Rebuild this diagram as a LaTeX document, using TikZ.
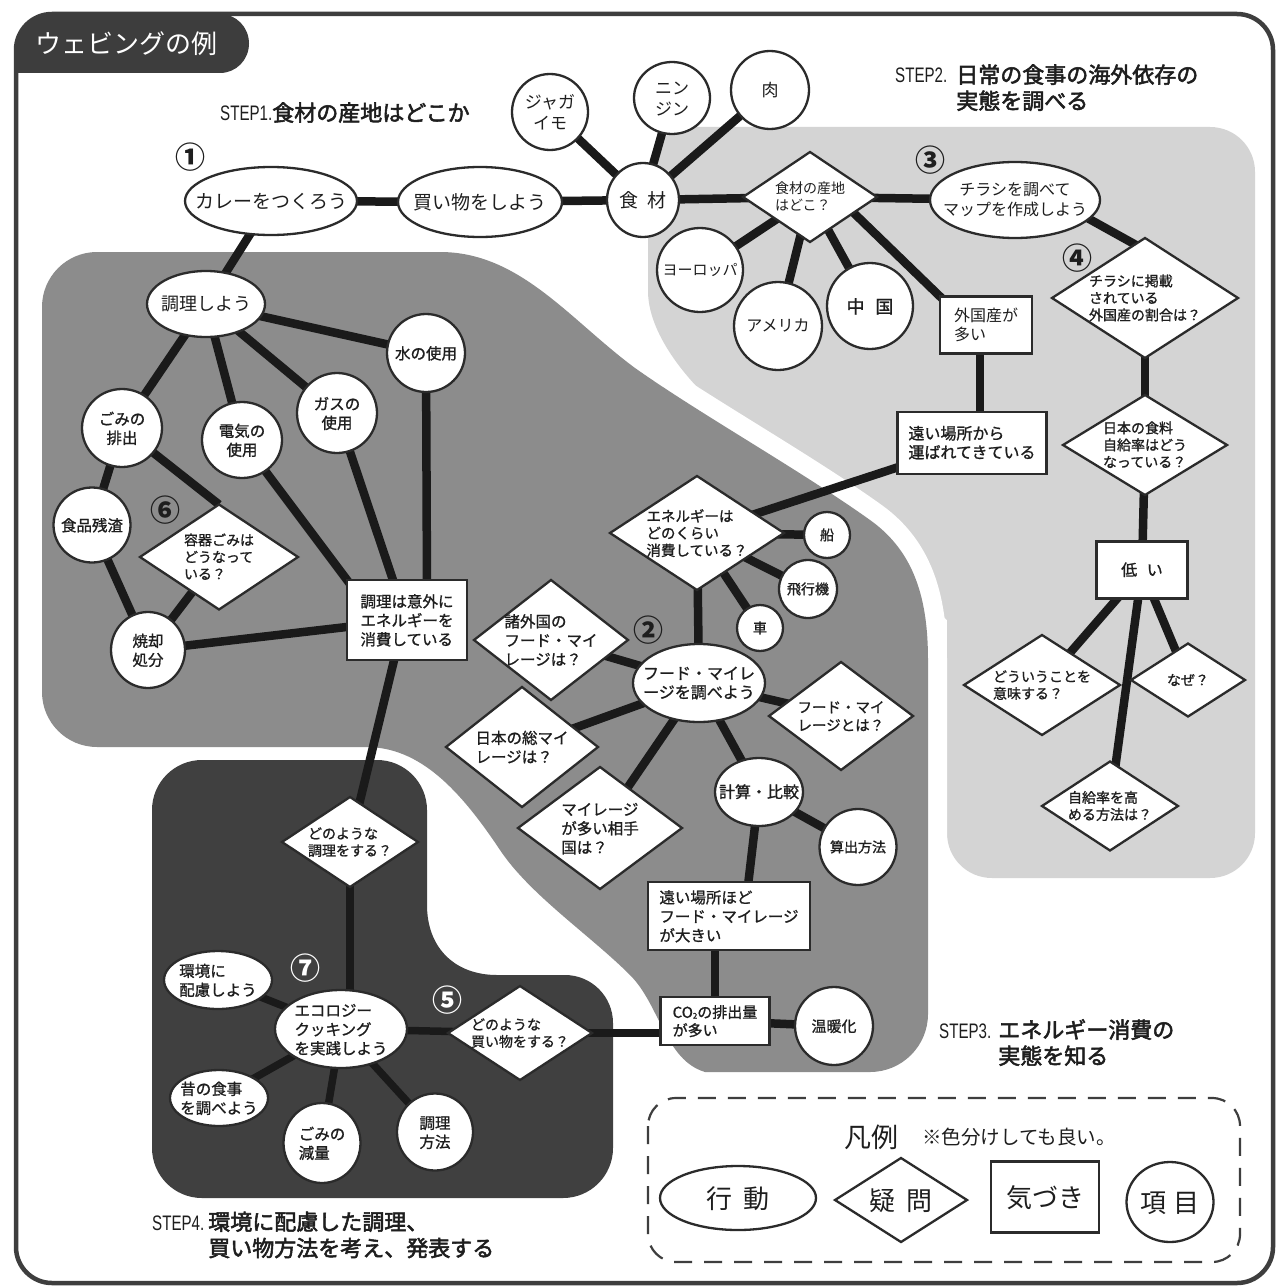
\documentclass[tikz,border=0pt]{standalone}
\usepackage{fontspec}
\usetikzlibrary{shapes.geometric,calc}
\newfontfamily\jp{Noto Sans CJK JP}
\newfontfamily\jpm[FakeBold=1.1]{Noto Sans CJK JP}
\newfontfamily\jpb[FakeBold=2.4]{Noto Sans CJK JP}
\newfontfamily\stepf[FakeStretch=0.72]{Liberation Sans}
\definecolor{lightreg}{HTML}{D4D4D4}
\definecolor{midreg}{HTML}{8C8C8C}
\definecolor{darkreg}{HTML}{404040}
\definecolor{framec}{HTML}{3E3E3E}
\definecolor{nodeline}{HTML}{2B2B2B}
\definecolor{connc}{HTML}{1A1A1A}
\definecolor{txtc}{HTML}{1E1E1E}
\newcommand\FS[2]{\fontsize{#1}{#2}\selectfont}
\newcommand\TxtL[1]{\smash{\makebox[0pt]{\raisebox{-0.39em}{\begin{tabular}{@{}l@{}}#1\end{tabular}}}}}
\newcommand\TxtC[1]{\smash{\makebox[0pt]{\raisebox{-0.39em}{\begin{tabular}{@{}c@{}}#1\end{tabular}}}}}
\pgfdeclarelayer{regions}
\pgfdeclarelayer{lines}
\pgfsetlayers{regions,lines,main}
\tikzset{
  nd/.style={draw=nodeline, line width=2.3pt, fill=white, inner sep=0pt, outer sep=0pt, text=txtc},
  act/.style={nd, ellipse},
  que/.style={nd, diamond},
  kiz/.style={nd, rectangle},
  sz/.style 2 args={minimum width=#1, minimum height=#2},
  conn/.style={line width=8.5pt, draw=connc},
  dconn/.style={line width=7.5pt, draw=connc},
  cnum/.style={font=\jp\bfseries\FS{30}{30}, inner sep=0pt, text=txtc},
  stepl/.style={anchor=base west, inner sep=0pt, text=txtc},
}
\begin{document}
\begin{tikzpicture}[x=1pt,y=-1pt]
\useasboundingbox (0,0) rectangle (1278,1287);
\begin{pgfonlayer}{regions}
\fill[white] (0,0) rectangle (1278,1287);
% STEP2 light region
\fill[lightreg] (648,291) -- (648,172) .. controls (648,147) and (668,127) .. (693,127) -- (1210,127) .. controls (1235,127) and (1255,147) .. (1255,172) -- (1255,833) .. controls (1255,858) and (1235,878) .. (1210,878) -- (992,878) .. controls (967,878) and (947,858) .. (947,833) -- (947,620) -- (760,440) .. controls (700,400) and (648,340) .. (648,291) -- cycle;
% STEP3 mid region
\path[fill=midreg, preaction={draw=white, line width=38pt}] (42,307) .. controls (42,276.6) and (66.6,252) .. (97,252) -- (440,252) .. controls (520,252) and (570,320) .. (635,368) .. controls (700,414) and (800,470) .. (870,520) .. controls (915,552) and (928,600) .. (928,660) -- (928,1014) .. controls (928,1046) and (902,1072) .. (870,1072) -- (705,1072) .. controls (665,1060) and (660,1005) .. (630,975) .. controls (590,935) and (530,895) .. (500,850) .. controls (460,790) and (420,747) .. (366,747) -- (97,747) .. controls (66.6,747) and (42,722.4) .. (42,692) -- cycle;
% STEP4 dark region
\fill[darkreg] (152,810) .. controls (152,782.4) and (174.4,760) .. (202,760) -- (377,760) .. controls (404.6,760) and (427,782.4) .. (427,810) -- (427,905) .. controls (427,948) and (455,975) .. (497,975) -- (565,975) .. controls (591.5,975) and (613,996.5) .. (613,1023) -- (613,1148) .. controls (613,1175.6) and (590.6,1198) .. (563,1198) -- (202,1198) .. controls (174.4,1198) and (152,1175.6) .. (152,1148) -- cycle;
\end{pgfonlayer}

% frame and tab
\draw[framec, line width=4.5pt, rounded corners=36pt] (16,14) rectangle (1273,1283);
\fill[darkreg!95!black] (16,73) -- (16,50) .. controls (16,30) and (30,14) .. (50,14) -- (220,14) .. controls (236,14) and (249,27) .. (249,43.5) .. controls (249,60) and (236,73) .. (220,73) -- cycle;
\node[font=\jp\FS{26}{28}, text=white, inner sep=0pt] (tabtxt) at (126,44) {ウェビングの例};

% STEP labels
\node[stepl] (step1) at (220,121) {{\stepf\FS{21}{26}STEP1.}{\jpb\FS{22}{26}食材の産地はどこか}};
\node[stepl] (step2) at (895,83) {\FS{22}{25}\begin{tabular}[t]{@{}l@{\hspace{9pt}}l@{}}\stepf\FS{21}{25}STEP2. & \jpb 日常の食事の海外依存の\\ & \jpb 実態を調べる\end{tabular}};
\node[stepl] (step3) at (939,1038) {\FS{22}{25}\begin{tabular}[t]{@{}l@{\hspace{7pt}}l@{}}\stepf\FS{21}{25}STEP3. & \jpb エネルギー消費の\\ & \jpb 実態を知る\end{tabular}};
\node[stepl] (step4) at (152,1230) {\FS{22}{26}\begin{tabular}[t]{@{}l@{\hspace{4pt}}l@{}}\stepf\FS{21}{26}STEP4. & \jpb 環境に配慮した調理、\\ & \jpb 買い物方法を考え、発表する\end{tabular}};

% circled numbers
\node[cnum] (n1) at (190,157) {①};
\node[cnum] (n2) at (648,630) {②};
\node[cnum] (n3) at (930,160) {③};
\node[cnum] (n4) at (1077,258) {④};
\node[cnum, text=white] (n5) at (447,1000) {⑤};
\node[cnum] (n6) at (165,510) {⑥};
\node[cnum, text=white] (n7) at (305,968) {⑦};

% ---- top / STEP1-2 nodes
\node[act, sz={172}{68}, font=\jp\FS{19}{22}] (curry) at (271,201) {\TxtC{カレーをつくろう}};
\node[act, sz={164}{70}, font=\jp\FS{19}{22}] (kaimono) at (480,202) {\TxtC{買い物をしよう}};
\node[act, sz={72}{74}, font=\jp\FS{19}{22}] (shokuzai) at (643,200) {\TxtC{食\hspace{0.45em}材}};
\node[act, sz={76}{76}, font=\jp\FS{17}{21}] (jaga) at (550,112) {\TxtC{ジャガ\\イモ}};
\node[act, sz={76}{72}, font=\jp\FS{17}{21}] (ninjin) at (672,98) {\TxtC{ニン\\ジン}};
\node[act, sz={78}{78}, font=\jp\FS{17}{21}] (niku) at (770,90) {\TxtC{肉}};
\node[que, sz={134}{90}, font=\jp\FS{14}{17}] (sanchi) at (810,197) {\TxtL{食材の産地\\はどこ？}};
\node[act, sz={170}{76}, font=\jp\FS{16}{20}] (chirashi) at (1015,200) {\TxtC{チラシを調べて\\マップを作成しよう}};
\node[que, sz={186}{120}, font=\jpm\FS{14}{17}] (keisai) at (1145,298) {\TxtL{チラシに掲載\\されている\\外国産の割合は？}};
\node[act, sz={86}{84}, font=\jp\FS{15}{18}] (europe) at (700,270) {\TxtC{ヨーロッパ}};
\node[act, sz={88}{88}, font=\jp\FS{16}{18}] (america) at (778,326) {\TxtC{アメリカ}};
\node[act, sz={86}{86}, font=\jpm\FS{18}{20}] (china) at (870,306) {\TxtC{中\hspace{0.6em}国}};
\node[kiz, sz={92}{57}, font=\jp\FS{16}{19}] (gaikoku) at (986,325) {\TxtL{外国産が\\多い}};
\node[kiz, sz={149}{62}, font=\jpm\FS{16}{19}] (tooi1) at (972,443) {\TxtL{遠い場所から\\運ばれてきている}};
\node[que, sz={164}{100}, font=\jpm\FS{14}{17}] (jikyu) at (1145,445) {\TxtL{日本の食料\\自給率はどう\\なっている？}};
\node[kiz, sz={91}{57}, font=\jpm\FS{16}{19}] (hikui) at (1142,570) {\TxtC{低\hspace{0.6em}い}};
\node[que, sz={156}{100}, font=\jpm\FS{14}{17}] (imi) at (1042,685) {\TxtL{どういうことを\\意味する？}};
\node[que, sz={114}{73}, font=\jpm\FS{14}{17}] (naze) at (1188,680) {\TxtC{なぜ？}};
\node[que, sz={136}{89}, font=\jpm\FS{14}{17}] (takameru) at (1110,806) {\TxtL{自給率を高\\める方法は？}};

% ---- left (cooking)
\node[act, sz={118}{66}, font=\jp\FS{18}{21}] (chouriyou) at (206,304) {\TxtC{調理しよう}};
\node[act, sz={78}{78}, font=\jpm\FS{15.5}{19}] (mizu) at (426,353) {\TxtC{水の使用}};
\node[act, sz={80}{78}, font=\jpm\FS{15.5}{19}] (gomi) at (122,428) {\TxtC{ごみの\\排出}};
\node[act, sz={80}{76}, font=\jpm\FS{15.5}{19}] (denki) at (242,440) {\TxtC{電気の\\使用}};
\node[act, sz={80}{80}, font=\jpm\FS{15.5}{19}] (gas) at (337,413) {\TxtC{ガスの\\使用}};
\node[act, sz={77}{75}, font=\jpm\FS{15.5}{19}] (shokuhin) at (92,525) {\TxtC{食品残渣}};
\node[que, sz={158}{105}, font=\jpm\FS{14}{17}] (youki) at (219,557) {\TxtL{容器ごみは\\どうなって\\いる？}};
\node[act, sz={74}{76}, font=\jpm\FS{15.5}{19}] (shoukyaku) at (148,650) {\TxtC{焼却\\処分}};
\node[kiz, sz={120}{80}, font=\jpm\FS{15.5}{19}] (chouri) at (407,620) {\TxtL{調理は意外に\\エネルギーを\\消費している}};

% ---- middle (food mileage)
\node[que, sz={174}{114}, font=\jpm\FS{14.5}{17}] (energy) at (697,533) {\TxtL{エネルギーは\\どのくらい\\消費している？}};
\node[act, sz={46}{46}, font=\jpm\FS{14}{17}] (fune) at (827,535) {\TxtC{船}};
\node[act, sz={58}{58}, font=\jpm\FS{14}{17}] (hikouki) at (808,589) {\TxtC{飛行機}};
\node[act, sz={46}{46}, font=\jpm\FS{14}{17}] (kuruma) at (760,628) {\TxtC{車}};
\node[que, sz={154}{120}, font=\jpm\FS{15.5}{19}] (shogai) at (551,640) {\TxtL{諸外国の\\フード・マイ\\レージは？}};
\node[act, sz={132}{78}, font=\jpm\FS{16}{19}] (fm) at (699,683) {\TxtC{フード・マイレ\\ージを調べよう}};
\node[que, sz={144}{108}, font=\jpm\FS{14.5}{18}] (towa) at (841,716) {\TxtL{フード・マイ\\レージとは？}};
\node[que, sz={152}{120}, font=\jpm\FS{15.5}{19}] (nihon) at (522,747) {\TxtL{日本の総マイ\\レージは？}};
\node[que, sz={164}{122}, font=\jpm\FS{15.5}{19}] (aite) at (600,828) {\TxtL{マイレージ\\が多い相手\\国は？}};
\node[act, sz={88}{68}, font=\jpm\FS{16}{19}] (keisan) at (759,792) {\TxtC{計算・比較}};
\node[act, sz={77}{76}, font=\jpm\FS{14}{17}] (sanshutsu) at (858,847) {\TxtC{算出方法}};
\node[kiz, sz={162}{68}, font=\jpm\FS{15.5}{19}] (tooi2) at (729,916) {\TxtL{遠い場所ほど\\フード・マイレージ\\が大きい}};
\node[kiz, sz={109}{48}, font=\jpm\FS{15}{18}] (co2) at (715,1021) {\TxtL{CO{\FS{8}{8}\raisebox{-0.1em}{2}}の排出量\\が多い}};
\node[act, sz={78}{78}, font=\jpm\FS{15}{18}] (ondan) at (834,1026) {\TxtC{温暖化}};

% ---- bottom (STEP4)
\node[que, sz={136}{90}, font=\jpm\FS{14}{17}] (dono1) at (350,842) {\TxtL{どのような\\調理をする？}};
\node[act, sz={108}{58}, font=\jpm\FS{15.5}{19}] (kankyo) at (218,980) {\TxtL{環境に\\配慮しよう}};
\node[act, sz={132}{78}, font=\jpm\FS{15.5}{19}] (eco) at (341,1029) {\TxtL{エコロジー\\クッキング\\を実践しよう}};
\node[que, sz={144}{94}, font=\jpm\FS{14}{17}] (kaimono2) at (520,1033) {\TxtL{どのような\\買い物をする？}};
\node[act, sz={98}{56}, font=\jpm\FS{15.5}{19}] (mukashi) at (219,1098) {\TxtL{昔の食事\\を調べよう}};
\node[act, sz={77}{80}, font=\jpm\FS{15.5}{19}] (gomi2) at (322,1143) {\TxtL{ごみの\\減量}};
\node[act, sz={76}{77}, font=\jpm\FS{15.5}{19}] (houhou) at (435,1132) {\TxtC{調理\\方法}};

% ---- legend
\draw[framec, line width=2.2pt, dash pattern=on 18pt off 12pt, rounded corners=28pt] (648,1098) rectangle (1240,1262);
\node[font=\jp\FS{27}{30}, inner sep=0pt, text=txtc] (hanrei) at (871,1137) {凡例};
\node[font=\jp\FS{19.5}{22}, anchor=base west, inner sep=0pt, text=txtc] (chui) at (922,1144) {※色分けしても良い。};
\node[act, sz={156}{64}, font=\jp\FS{26}{28}] (lg1) at (738,1198) {\TxtC{行\hspace{0.4em}動}};
\node[que, sz={132}{84}, font=\jp\FS{26}{28}] (lg2) at (901,1200) {\TxtC{疑\hspace{0.4em}問}};
\node[kiz, sz={108}{71}, font=\jp\FS{26}{28}] (lg3) at (1045,1197) {\TxtC{気づき}};
\node[act, sz={87}{80}, font=\jp\FS{26}{28}] (lg4) at (1170,1202) {\TxtC{項\hspace{0.3em}目}};

% ---- connectors
\coordinate (sg) at ($(sanchi.east)!0.35!(sanchi.south)$);
\coordinate (gk) at ($(gaikoku.center)+(-6,0)$);
\coordinate (ck) at ($(chirashi.center)+(40,0)$);
\begin{pgfonlayer}{lines}
\draw[conn] (curry.center) -- (kaimono.center);
\draw[conn] (kaimono.center) -- (shokuzai.center);
\draw[conn] (shokuzai.center) -- (jaga.center);
\draw[conn] (shokuzai.center) -- (ninjin.center);
\draw[conn] (shokuzai.center) -- (niku.center);
\draw[conn] (shokuzai.center) -- (sanchi.center);
\draw[conn] (sanchi.center) -- (chirashi.center);
\draw[conn] (sanchi.center) -- (europe.center);
\draw[conn] (sanchi.center) -- (america.center);
\draw[conn] (sanchi.center) -- (china.center);
\draw[conn] ($(sg)!-15pt!(gaikoku.north west)$) -- ($(gaikoku.north west)!-12pt!(sg)$);
\draw[conn] (ck) -- ($(keisai.north)+(0,12)$);
\draw[conn] (keisai.center) -- (jikyu.center);
\draw[conn] (jikyu.center) -- (hikui.center);
\draw[conn] (hikui.center) -- (imi.center);
\draw[conn] (hikui.center) -- (takameru.center);
\draw[conn] (hikui.center) -- (naze.center);
\draw[conn] (gk) -- (gk |- tooi1.center);
\draw[conn] (tooi1.center) -- (energy.center);
\draw[conn] (energy.center) -- (fune.center);
\draw[conn] (energy.center) -- (hikouki.center);
\draw[conn] (energy.center) -- (kuruma.center);
\draw[conn] (energy.center) -- (fm.center);
\draw[conn] (fm.center) -- (shogai.center);
\draw[conn] (fm.center) -- (towa.center);
\draw[conn] (fm.center) -- (nihon.center);
\draw[conn] (fm.center) -- (aite.center);
\draw[conn] (fm.center) -- (keisan.center);
\draw[conn] (keisan.center) -- (sanshutsu.center);
\draw[conn] (keisan.center) -- ($(tooi2.north)+(18,12)$);
\draw[conn] (co2.center) -- (co2.center |- tooi2.center);
\draw[conn] (co2.center) -- (ondan.center);
\draw[conn] (kaimono2.center) -- (kaimono2.center -| co2.center);
\draw[conn] (curry.center) -- (chouriyou.center);
\draw[conn] (chouriyou.center) -- (gomi.center);
\draw[conn] (chouriyou.center) -- (denki.center);
\draw[conn] (chouriyou.center) -- (gas.center);
\draw[conn] (chouriyou.center) -- (mizu.center);
\draw[conn] (gomi.center) -- (shokuhin.center);
\draw[conn] (gomi.center) -- (youki.north);
\draw[conn] (shokuhin.center) -- (shoukyaku.center);
\draw[conn] (youki.center) -- (shoukyaku.center);
\draw[conn] (chouri.center) -- (shoukyaku.center);
\draw[conn] (denki.center) -- ($(chouri.north west)!-12pt!(denki.center)$);
\draw[conn] (gas.center) -- ($(chouri.north)+(-10,12)$);
\draw[conn] (mizu.center) -- ($(chouri.north)+(20,12)$);
\draw[conn] ($(chouri.south)+(-10,-12)$) -- (dono1.center);
\draw[dconn] (dono1.center) -- (dono1.center |- eco.center);
\draw[dconn] (eco.center) -- (kaimono2.center);
\draw[dconn] (eco.center) -- (kankyo.center);
\draw[dconn] (eco.center) -- (mukashi.center);
\draw[dconn] (eco.center) -- (gomi2.center);
\draw[dconn] (eco.center) -- (houhou.center);
\end{pgfonlayer}
\end{tikzpicture}
\end{document}
